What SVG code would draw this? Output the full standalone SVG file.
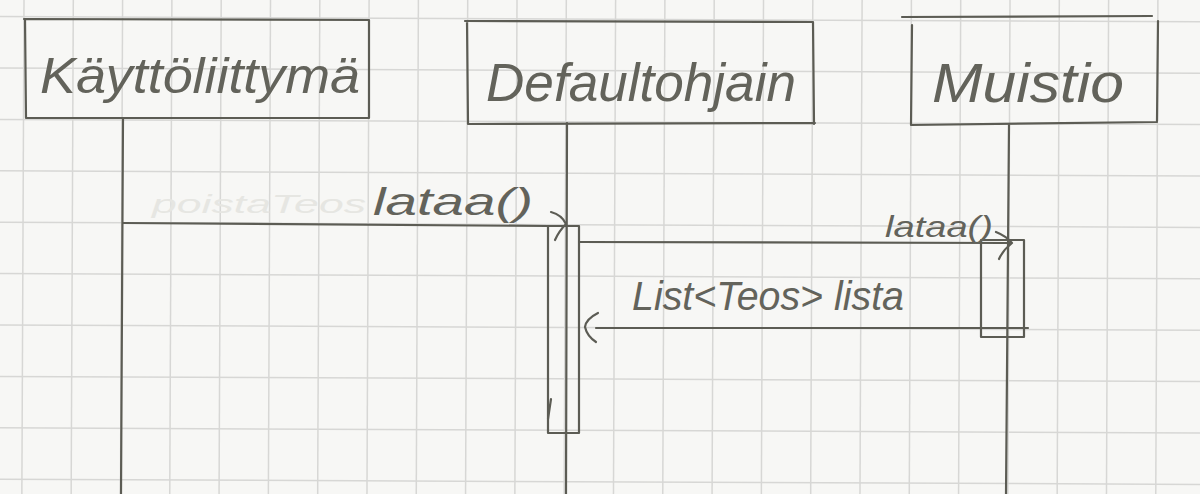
<svg xmlns="http://www.w3.org/2000/svg" width="1200" height="494" viewBox="0 0 1200 494">
<defs>
<style>
.grid line{stroke:#d7d7d5;stroke-width:1.5}
.ink{stroke:#5c5c54;stroke-width:2.2;fill:none;stroke-linecap:round;stroke-linejoin:round}
.lbl{font-family:"Liberation Sans",Arial,sans-serif;fill:#63635b;font-style:italic}
.faint{font-family:"Liberation Sans",Arial,sans-serif;fill:#e6e6e2;font-style:italic}
</style>
</defs>
<rect width="1200" height="494" fill="#f7f7f5"/>
<g class="grid" transform="rotate(0.248)">
<line x1="24" y1="-20" x2="24" y2="520"/><line x1="73.3" y1="-20" x2="73.3" y2="520"/><line x1="122.6" y1="-20" x2="122.6" y2="520"/><line x1="171.9" y1="-20" x2="171.9" y2="520"/><line x1="221.2" y1="-20" x2="221.2" y2="520"/><line x1="270.5" y1="-20" x2="270.5" y2="520"/><line x1="319.8" y1="-20" x2="319.8" y2="520"/><line x1="369.1" y1="-20" x2="369.1" y2="520"/><line x1="418.4" y1="-20" x2="418.4" y2="520"/><line x1="467.7" y1="-20" x2="467.7" y2="520"/><line x1="517" y1="-20" x2="517" y2="520"/><line x1="566.3" y1="-20" x2="566.3" y2="520"/><line x1="615.6" y1="-20" x2="615.6" y2="520"/><line x1="664.9" y1="-20" x2="664.9" y2="520"/><line x1="714.2" y1="-20" x2="714.2" y2="520"/><line x1="763.5" y1="-20" x2="763.5" y2="520"/><line x1="812.8" y1="-20" x2="812.8" y2="520"/><line x1="862.1" y1="-20" x2="862.1" y2="520"/><line x1="911.4" y1="-20" x2="911.4" y2="520"/><line x1="960.7" y1="-20" x2="960.7" y2="520"/><line x1="1010" y1="-20" x2="1010" y2="520"/><line x1="1059.3" y1="-20" x2="1059.3" y2="520"/><line x1="1108.6" y1="-20" x2="1108.6" y2="520"/><line x1="1157.9" y1="-20" x2="1157.9" y2="520"/>
<line x1="-20" y1="16.6" x2="1220" y2="16.6"/><line x1="-20" y1="68" x2="1220" y2="68"/><line x1="-20" y1="119.4" x2="1220" y2="119.4"/><line x1="-20" y1="170.8" x2="1220" y2="170.8"/><line x1="-20" y1="222.2" x2="1220" y2="222.2"/><line x1="-20" y1="273.6" x2="1220" y2="273.6"/><line x1="-20" y1="325" x2="1220" y2="325"/><line x1="-20" y1="376.4" x2="1220" y2="376.4"/><line x1="-20" y1="427.8" x2="1220" y2="427.8"/><line x1="-20" y1="479.2" x2="1220" y2="479.2"/>
</g>

<g id="kayttoliittyma">
<path class="ink" d="M24,19 L369,20 M25,19 L26,118 L369,118 M369,20 L369,118"/>
<text class="lbl" x="40" y="93" font-size="50" textLength="320" lengthAdjust="spacingAndGlyphs">Käyttöliittymä</text>
<path class="ink" d="M123,118 L121,494"/>
</g>

<g id="defaultohjain">
<path class="ink" d="M465,21 L813,22 M467,21 L468,124 L815,123 M813,22 L814,124"/>
<text class="lbl" x="486" y="101" font-size="54" textLength="310" lengthAdjust="spacingAndGlyphs">Defaultohjain</text>
<path class="ink" d="M567,123 L566,494"/>
<rect class="ink" x="548" y="226" width="31" height="207"/>
<path class="ink" d="M551,399 L548,419"/>
</g>

<g id="muistio">
<path class="ink" d="M902,17 L1152,16 M912,25 L911,125 L1157,122 M1158,21 L1157,121"/>
<text class="lbl" x="932" y="102" font-size="56" textLength="192" lengthAdjust="spacingAndGlyphs">Muistio</text>
<path class="ink" d="M1009,125 L1006,494"/>
<rect class="ink" x="981" y="240" width="43" height="97"/>
</g>

<g id="connectors">
<text class="faint" x="152" y="213" font-size="26" textLength="214" lengthAdjust="spacingAndGlyphs">poistaTeos</text>
<path class="ink" d="M123,223 L548,226"/>
<path class="ink" d="M551,212 Q562,215 566,224 Q559,231 555,240"/>
<text class="lbl" x="373" y="215" font-size="38" textLength="160" lengthAdjust="spacingAndGlyphs">lataa()</text>

<path class="ink" d="M579,242 L1010,243"/>
<path class="ink" d="M996,232 Q1006,236 1012,243 Q1003,250 999,259"/>
<text class="lbl" x="885" y="237" font-size="30" textLength="108" lengthAdjust="spacingAndGlyphs">lataa()</text>

<path class="ink" d="M1028,328 L596,328"/>
<path class="ink" d="M598,313 Q586,319 585,327 Q587,336 596,342"/>
<text class="lbl" x="632" y="310" font-size="40" textLength="272" lengthAdjust="spacingAndGlyphs">List&lt;Teos&gt; lista</text>
</g>
</svg>
